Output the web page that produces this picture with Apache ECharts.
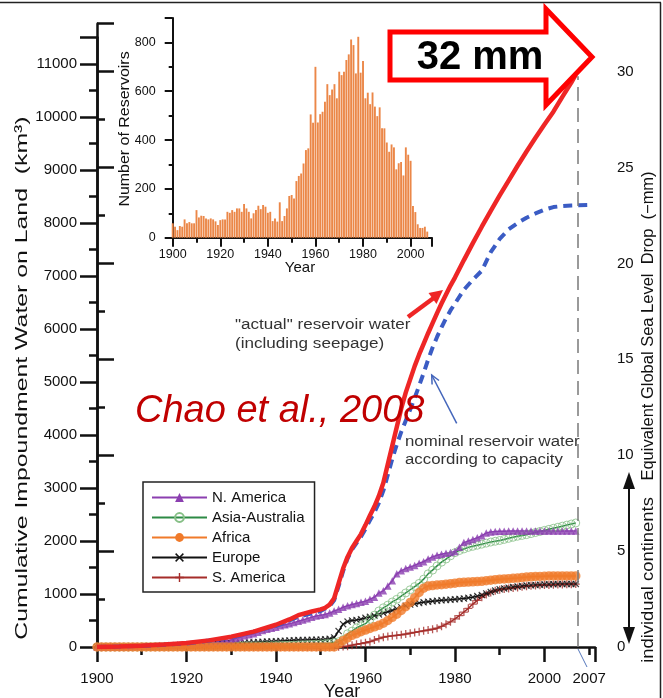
<!DOCTYPE html>
<html>
<head>
<meta charset="utf-8">
<script src="https://cdn.jsdelivr.net/npm/echarts@6/dist/echarts.min.js"></script>
<style>html,body{margin:0;padding:0;background:#fff}#c{width:663px;height:698px}</style>
</head>
<body>
<div id="c"></div>
<script>
// ---------- DATA ----------
const YEARS = [1900,1901,1902,1903,1904,1905,1906,1907,1908,1909,
1910,1911,1912,1913,1914,1915,1916,1917,1918,1919,
1920,1921,1922,1923,1924,1925,1926,1927,1928,1929,
1930,1931,1932,1933,1934,1935,1936,1937,1938,1939,
1940,1941,1942,1943,1944,1945,1946,1947,1948,1949,
1950,1951,1952,1953,1954,1955,1956,1957,1958,1959,
1960,1961,1962,1963,1964,1965,1966,1967,1968,1969,
1970,1971,1972,1973,1974,1975,1976,1977,1978,1979,
1980,1981,1982,1983,1984,1985,1986,1987,1988,1989,
1990,1991,1992,1993,1994,1995,1996,1997,1998,1999,
2000,2001,2002,2003,2004,2005,2006,2007];

// Number of reservoirs built per year (inset)
const RESERVOIRS = [59,45,31,48,45,75,59,64,59,59,
113,83,90,89,79,75,79,75,67,52,
72,75,75,106,102,113,106,120,120,106,
138,120,106,79,100,113,131,117,134,127,
102,106,68,79,66,145,68,89,120,171,
175,161,232,253,263,304,359,366,505,471,
700,472,506,516,557,629,584,607,629,571,
680,666,680,728,751,812,789,673,823,676,
724,571,594,547,595,537,498,534,448,448,
390,352,382,370,280,305,310,255,370,340,
315,130,105,55,40,40,45,25];

// Continents (km3), yearly 1900-2007
const N_AMERICA = [0,1,2,3,4,5,6,8,10,12,
15,18,21,24,27,30,34,38,42,46,
50,56,62,68,75,82,90,100,110,120,
132,160,185,210,230,250,280,310,335,355,
375,400,420,440,460,485,510,535,560,585,
600,615,640,680,710,750,780,800,820,845,
865,900,940,1020,1060,1150,1250,1380,1440,1480,
1510,1540,1580,1610,1660,1700,1730,1750,1770,1785,
1800,1880,1970,2000,2030,2060,2100,2150,2170,2180,
2185,2186,2187,2188,2189,2190,2190,2190,2190,2190,
2190,2190,2190,2190,2190,2190,2190,2190];
const ASIA_AUSTRALIA = [0,0,0,0,0,0,0,0,0,0,
2,2,3,3,4,4,5,5,6,6,
7,8,9,10,11,12,13,14,15,16,
17,18,19,20,21,22,23,24,25,27,
29,31,33,35,37,40,43,46,50,55,
60,65,70,85,100,140,250,300,360,400,
440,520,600,680,740,790,850,900,960,1020,
1080,1140,1200,1280,1380,1450,1530,1600,1660,1720,
1780,1820,1850,1880,1900,1920,1940,1960,1980,1995,
2010,2030,2050,2070,2090,2105,2120,2140,2160,2180,
2200,2220,2240,2260,2280,2300,2320,2340];
const AFRICA = [0,0,0,0,0,0,0,0,0,0,
0,0,0,0,0,0,0,0,0,0,
0,0,0,0,0,0,0,0,0,0,
0,0,0,0,0,0,0,0,0,0,
0,0,0,0,0,0,0,0,0,0,
0,0,0,0,60,120,170,220,250,290,
320,350,380,410,450,500,560,620,690,760,
840,930,1030,1110,1150,1160,1170,1175,1185,1195,
1205,1215,1220,1225,1230,1235,1240,1250,1260,1270,
1280,1285,1290,1295,1300,1310,1320,1325,1330,1330,
1335,1340,1340,1340,1340,1340,1340,1340];
const EUROPE = [0,1,2,3,4,5,6,7,8,9,
10,12,14,16,18,20,22,24,26,28,
30,34,38,42,46,50,54,58,62,66,
70,74,78,82,86,90,94,98,102,106,
110,114,118,122,126,130,132,134,136,138,
140,145,155,180,300,430,480,500,510,525,
550,570,590,615,640,665,690,720,750,780,
800,815,830,845,855,865,872,880,887,893,
900,908,915,928,940,960,980,1010,1040,1065,
1090,1105,1120,1130,1140,1150,1160,1165,1170,1175,
1180,1183,1185,1187,1189,1190,1190,1190];
const S_AMERICA = [0,0,0,0,0,0,0,0,0,0,
0,0,0,0,0,0,0,0,0,0,
0,0,0,0,0,0,0,0,0,0,
0,0,0,0,0,0,0,0,0,0,
0,0,0,0,0,0,0,0,0,0,
0,0,0,0,3,8,15,35,50,65,
80,100,130,160,185,200,210,220,230,245,
260,275,290,305,320,335,355,390,430,475,
530,590,660,730,810,880,940,990,1030,1060,
1080,1095,1105,1115,1125,1135,1145,1155,1160,1165,
1170,1172,1175,1178,1180,1182,1185,1187];

// Global totals (km3): [year, value]
const ACTUAL = [[1900,0],[1905,10],[1910,25],[1915,45],[1920,75],[1925,125],[1930,195],[1935,290],[1940,420],[1943,520],[1945,600],[1948,670],[1950,710],[1951,740],[1952,800],[1953,920],[1954,1200],[1955,1480],[1956,1700],[1957,1870],[1958,2000],[1959,2130],[1960,2300],[1961,2480],[1962,2650],[1963,2850],[1964,3100],[1965,3450],[1966,3800],[1967,4150],[1968,4500],[1969,4800],[1970,5050],[1971,5300],[1972,5520],[1973,5720],[1974,5920],[1975,6110],[1976,6300],[1977,6480],[1978,6650],[1979,6820],[1980,6970],[1982,7300],[1984,7620],[1986,7930],[1988,8230],[1990,8520],[1992,8800],[1994,9080],[1996,9350],[1998,9610],[2000,9860],[2002,10100],[2004,10380],[2006,10650],[2007,10800]];
const NOMINAL = [[1900,0],[1910,20],[1920,65],[1930,180],[1940,400],[1945,570],[1950,680],[1952,770],[1953,880],[1954,1150],[1955,1430],[1956,1670],[1957,1840],[1958,1960],[1959,2080],[1960,2230],[1961,2390],[1962,2540],[1963,2720],[1964,2950],[1965,3250],[1966,3550],[1967,3820],[1968,4060],[1969,4270],[1970,4480],[1971,4700],[1972,4930],[1973,5170],[1974,5420],[1975,5650],[1976,5850],[1977,6030],[1978,6200],[1979,6350],[1980,6480],[1982,6740],[1984,6930],[1986,7100],[1988,7450],[1990,7700],[1992,7880],[1994,8000],[1996,8100],[1998,8180],[2000,8250],[2002,8300],[2004,8320],[2006,8330],[2010,8340]];

const LEGEND_NAMES = ['N. America','Asia-Australia','Africa','Europe','S. America'];

// ---------- CHART ----------
const FONT = 'Liberation Sans';
const chart = echarts.init(document.getElementById('c'), null, {renderer:'canvas'});
const pair = arr => YEARS.map((y,i)=>[y, arr[i]]);
const axisLine = w => ({show:true, lineStyle:{color:'#111', width:w}});
const XSYM = 'path://M0,1.2L1.2,0L5,3.8L8.8,0L10,1.2L6.2,5L10,8.8L8.8,10L5,6.2L1.2,10L0,8.8L3.8,5Z';
const PSYM = 'path://M4.2,0H5.8V4.2H10V5.8H5.8V10H4.2V5.8H0V4.2H4.2Z';
const plain = v => String(v);

// continent styles
const CONT = [
  {name:'S. America', data:S_AMERICA, symbol:PSYM, size:8, line:'#A52D2A', item:{color:'#A52D2A'}},
  {name:'Europe', data:EUROPE, symbol:XSYM, size:7, line:'#111', item:{color:'#111'}},
  {name:'Asia-Australia', data:ASIA_AUSTRALIA, symbol:'circle', size:8, line:'#2D8A45',
   item:{color:'rgba(255,255,255,0)', borderColor:'#86BF86', borderWidth:1}},
  {name:'N. America', data:N_AMERICA, symbol:'triangle', size:7.5, line:'#8B3FB0', item:{color:'#8B3FB0'}},
  {name:'Africa', data:AFRICA, symbol:'circle', size:9.5, line:'#F07A2A', item:{color:'#F07A2A'}}
];
const contSeries = [];
CONT.forEach((c, k) => {
  contSeries.push({type:'line', name:c.name, xAxisIndex:0, yAxisIndex:0, data:pair(c.data),
    symbol:c.symbol, symbolSize:c.size, showSymbol:false,
    lineStyle:{color:c.line, width:1.5}, itemStyle:c.item, z:3, silent:true});
  contSeries.push({type:'scatter', name:c.name + ' markers', xAxisIndex:0, yAxisIndex:0, data:pair(c.data),
    symbol:c.symbol, symbolSize:c.size, itemStyle:c.item, z:3, silent:true});
});

const option = {
  animation:false,
  backgroundColor:'#fff',
  textStyle:{fontFamily:FONT},
  grid:[
    {left:97, top:37.5, width:498, height:609.5},
    {left:97, top:23.7, width:498, height:623.3},
    {left:172.7, top:18, width:259.3, height:219.7}
  ],
  xAxis:[
    {gridIndex:0, type:'value', min:1900, max:2011.3, interval:20,
     axisLine:axisLine(2.5), axisTick:{length:15, lineStyle:{color:'#111', width:2.5}},
     splitLine:{show:false},
     axisLabel:{margin:24, fontSize:15, color:'#111', formatter:v=>(v%20===0 && v<=2000)?String(v):''}},
    {gridIndex:0, type:'value', min:1900, max:2011.3, interval:10, position:'bottom',
     axisLine:{show:false}, axisTick:{length:8, lineStyle:{color:'#111', width:2.5}},
     splitLine:{show:false},
     axisLabel:{margin:24, fontSize:15, color:'#111', formatter:v=>v===2010?'2007':''}},
    {gridIndex:1, type:'value', min:0, max:1, show:false},
    {gridIndex:2, type:'value', min:1900, max:2009, interval:20,
     axisLine:axisLine(2), axisTick:{length:9, lineStyle:{color:'#111', width:2}},
     splitLine:{show:false},
     axisLabel:{margin:10, fontSize:12.5, color:'#111', formatter:v=>(v%20===0)?String(v):''}},
    {gridIndex:2, type:'value', min:1900, max:2009, interval:10, position:'bottom',
     axisLine:{show:false}, axisTick:{length:5, lineStyle:{color:'#111', width:2}},
     splitLine:{show:false}, axisLabel:{show:false}}
  ],
  yAxis:[
    {gridIndex:0, type:'value', min:0, max:11500, interval:1000,
     axisLine:axisLine(2.5), axisTick:{show:true, length:17, lineStyle:{color:'#111', width:2.5}},
     minorTick:{show:true, splitNumber:2, length:8, lineStyle:{color:'#111', width:2.5}},
     splitLine:{show:false},
     axisLabel:{margin:20, fontSize:15, color:'#111', showMaxLabel:false, formatter:plain}},
    {gridIndex:1, type:'value', position:'right', min:0, max:32.5, interval:5,
     axisLine:axisLine(2.5), axisTick:{show:true, length:17, lineStyle:{color:'#111', width:2.5}},
     minorTick:{show:true, splitNumber:2, length:8, lineStyle:{color:'#111', width:2.5}},
     splitLine:{show:false},
     axisLabel:{margin:22, fontSize:15, color:'#111', showMaxLabel:false, formatter:plain}},
    {gridIndex:2, type:'value', min:0, max:900, interval:200,
     axisLine:axisLine(2), axisTick:{show:true, length:8, lineStyle:{color:'#111', width:2}},
     minorTick:{show:true, splitNumber:2, length:4, lineStyle:{color:'#111', width:2}},
     splitLine:{show:false},
     axisLabel:{margin:17, fontSize:12.5, color:'#111', showMaxLabel:false, formatter:plain}}
  ],
  legend:{
    data:LEGEND_NAMES, orient:'vertical', left:143, top:482,
    itemWidth:55, itemHeight:11, itemGap:5, padding:[8,10,7,8],
    borderColor:'#222', borderWidth:1.5, backgroundColor:'#fff',
    selectedMode:false,
    textStyle:{fontSize:15, color:'#111', fontFamily:FONT, lineHeight:15}
  },
  series:[
    {type:'bar', name:'reservoirs', xAxisIndex:3, yAxisIndex:2, data:pair(RESERVOIRS),
     barWidth:1.9, itemStyle:{color:'#EB8748'}, silent:true},
    ...contSeries,
    {type:'line', name:'nominal', xAxisIndex:0, yAxisIndex:0, data:NOMINAL, showSymbol:false,
     lineStyle:{color:'#3B5CC4', width:4, type:[9,6]}, z:4, silent:true},
    {type:'line', name:'actual', xAxisIndex:0, yAxisIndex:0, data:ACTUAL, showSymbol:false,
     lineStyle:{color:'#EE2626', width:4.5}, z:5, silent:true,
     markLine:{silent:true, symbol:['none','none'], label:{show:false},
       lineStyle:{color:'#7a7a7a', type:[14,7], width:1.5},
       data:[[{coord:[2007.5,0]},{coord:[2007.5,10770]}]]}}
  ],
  graphic:[
    {type:'line', shape:{x1:0,y1:2.5,x2:661,y2:2.5}, style:{stroke:'#222', lineWidth:1.5}, z:100},
    {type:'line', shape:{x1:660.5,y1:2.5,x2:660.5,y2:698}, style:{stroke:'#222', lineWidth:1.5}, z:100},
    // axis titles
    {type:'text', x:22, y:378, rotation:Math.PI/2, scaleX:1.46, z:100,
     style:{text:'Cumulative Impoundment Water on Land  (km³)', fontSize:17, fontFamily:FONT, fill:'#111', textAlign:'center', textVerticalAlign:'middle'}},
    {type:'text', x:649, y:326, rotation:Math.PI/2, scaleX:1.03, z:100,
     style:{text:'Equivalent Global Sea Level  Drop  (−mm)', fontSize:16, fontFamily:FONT, fill:'#111', textAlign:'center', textVerticalAlign:'middle'}},
    {type:'text', x:649, y:580, rotation:Math.PI/2, scaleX:1.15, z:100,
     style:{text:'individual continents', fontSize:16, fontFamily:FONT, fill:'#111', textAlign:'center', textVerticalAlign:'middle'}},
    {type:'text', x:342, y:692, z:100,
     style:{text:'Year', fontSize:18, fontFamily:FONT, fill:'#111', textAlign:'center', textVerticalAlign:'middle'}},
    {type:'text', x:300, y:268, z:100,
     style:{text:'Year', fontSize:15, fontFamily:FONT, fill:'#111', textAlign:'center', textVerticalAlign:'middle'}},
    {type:'text', x:125, y:129, rotation:Math.PI/2, scaleX:1.14, z:100,
     style:{text:'Number of Reservoirs', fontSize:14, fontFamily:FONT, fill:'#111', textAlign:'center', textVerticalAlign:'middle'}},
    // double arrow
    {type:'line', shape:{x1:629,y1:484,x2:629,y2:632}, style:{stroke:'#111', lineWidth:2}, z:100},
    {type:'polygon', shape:{points:[[629,472],[623,489],[635,489]]}, style:{fill:'#111'}, z:100},
    {type:'polygon', shape:{points:[[629,644],[623,627],[635,627]]}, style:{fill:'#111'}, z:100},
    // annotations
    {type:'text', x:235, y:325, scaleX:1.22, z:100,
     style:{text:'"actual" reservoir water', fontSize:14, fontFamily:FONT, fill:'#333', textAlign:'left', textVerticalAlign:'middle'}},
    {type:'text', x:235, y:344, scaleX:1.22, z:100,
     style:{text:'(including seepage)', fontSize:14, fontFamily:FONT, fill:'#333', textAlign:'left', textVerticalAlign:'middle'}},
    {type:'text', x:405, y:442, scaleX:1.2, z:100,
     style:{text:'nominal reservoir water', fontSize:14, fontFamily:FONT, fill:'#333', textAlign:'left', textVerticalAlign:'middle'}},
    {type:'text', x:405, y:460, scaleX:1.2, z:100,
     style:{text:'according to capacity', fontSize:14, fontFamily:FONT, fill:'#333', textAlign:'left', textVerticalAlign:'middle'}},
    {type:'line', shape:{x1:408,y1:317,x2:435,y2:297}, style:{stroke:'#EE2626', lineWidth:4.5}, z:100},
    {type:'polygon', shape:{points:[[443,290],[428.5,293],[436.5,304]]}, style:{fill:'#EE2626'}, z:100},
    {type:'line', shape:{x1:456.7,y1:423.3,x2:431.7,y2:375}, style:{stroke:'#4466BB', lineWidth:1.5}, z:100},
    {type:'polyline', shape:{points:[[432.1,384.5],[431.7,375],[439,380.5]]}, style:{stroke:'#4466BB', lineWidth:1.5, fill:null}, z:100},
    {type:'text', x:135, y:411, z:100,
     style:{text:'Chao et al., 2008', fontSize:38, fontStyle:'italic', fontFamily:FONT, fill:'#C00000', textAlign:'left', textVerticalAlign:'middle'}},
    // 32 mm arrow
    {type:'polygon', shape:{points:[[390,32],[546,32],[546,9],[592,57],[546,105],[546,80],[390,80]]},
     style:{fill:'#fff', stroke:'#FF0000', lineWidth:5, lineJoin:'miter'}, z:100},
    {type:'text', x:480, y:58, z:101,
     style:{text:'32 mm', fontSize:40, fontWeight:'bold', fontFamily:FONT, fill:'#000', textAlign:'center', textVerticalAlign:'middle'}},
    {type:'line', shape:{x1:578,y1:649,x2:587,y2:667}, style:{stroke:'#5577BB', lineWidth:1}, z:100}
  ]
};
chart.setOption(option);
</script>
</body>
</html>
